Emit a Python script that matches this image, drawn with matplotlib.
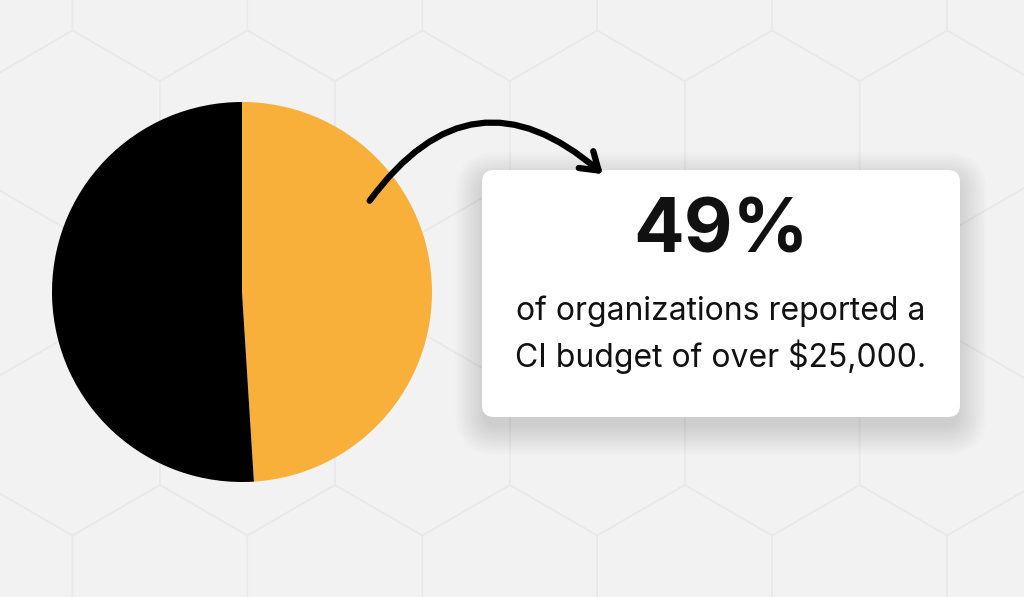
import numpy as np
import matplotlib.pyplot as plt
from matplotlib.patches import FancyBboxPatch, FancyArrowPatch, RegularPolygon

shares = [49, 51]
share_colors = ['#F9B03B', '#000000']
headline = '49%'
caption = 'of organizations reported a\nCI budget of over $25,000.'

W, H = 1024, 597
fig = plt.figure(figsize=(W / 100, H / 100), dpi=100)
fig.patch.set_facecolor('#f2f2f2')
ax = fig.add_axes([0, 0, 1, 1])
ax.set_facecolor('#f2f2f2')

# faint hexagon background
s = 101
w = s * np.sqrt(3)
for row in range(-1, 5):
    for col in range(-1, 8):
        cx = col * w + (w / 2 if row % 2 else 0) - 15
        cy = H - (row * 1.5 * s - 20)
        ax.add_patch(RegularPolygon((cx, cy), 6, radius=s, orientation=0,
                                    facecolor='none', edgecolor='#e9e9e9', lw=1.0, zorder=0))

ax.pie(shares, colors=share_colors, startangle=90, counterclock=False,
       center=(242, H - 292), radius=190, wedgeprops=dict(linewidth=0), frame=True)

# card with soft shadow
for i in range(12):
    pad = 2 + i * 2.5
    ax.add_patch(FancyBboxPatch((482 - pad + 3, H - 417 - pad - 8), 478 + 2 * pad - 6, 247 + 2 * pad - 4,
                                boxstyle='round,pad=0,rounding_size=%d' % (12 + pad),
                                fc='black', ec='none', alpha=0.012, zorder=2))
ax.add_patch(FancyBboxPatch((482, H - 417), 478, 247, boxstyle='round,pad=0,rounding_size=12',
                            fc='white', ec='none', zorder=3))

ax.text(721, H - 233, headline, ha='center', va='center', fontsize=54, fontweight='bold',
        family='Inter', color='#111111', zorder=4)
ax.text(721, H - 335, caption, ha='center', va='center', fontsize=23, family='Inter',
        color='#111111', linespacing=1.45, zorder=4)

ax.add_patch(FancyArrowPatch((368, H - 203), (605, H - 176), connectionstyle='arc3,rad=-0.55',
                             arrowstyle='->,head_length=12,head_width=8', color='black', lw=4.5,
                             zorder=5, capstyle='round', joinstyle='round'))

ax.set_xlim(0, W)
ax.set_ylim(0, H)
ax.set_aspect('auto')
ax.axis('off')
fig.savefig('out.png', dpi=100, facecolor=fig.get_facecolor())
